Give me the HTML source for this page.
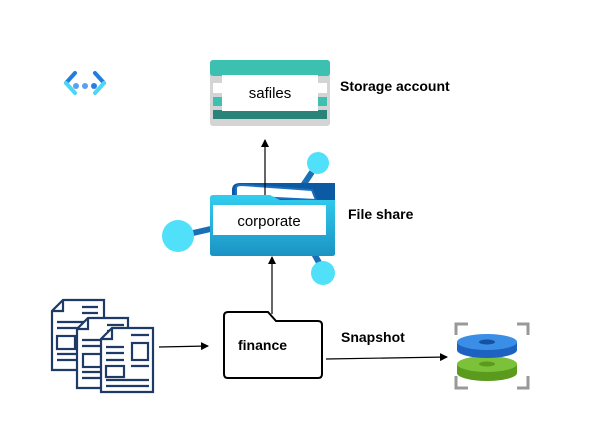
<!DOCTYPE html>
<html><head><meta charset="utf-8"><style>
html,body{margin:0;padding:0;background:#fff}
svg{display:block}
text{font-family:"Liberation Sans",sans-serif;fill:#000}
</style></head><body>
<svg width="589" height="444" viewBox="0 0 589 444" xmlns="http://www.w3.org/2000/svg">
<defs>
<marker id="ah" markerWidth="8" markerHeight="8" refX="7" refY="4" orient="auto" markerUnits="userSpaceOnUse">
<path d="M0,0 L8,4 L0,8 Z" fill="#000"/></marker>
<linearGradient id="fg" x1="0" y1="0" x2="0" y2="1"><stop offset="0" stop-color="#32cdef"/><stop offset="1" stop-color="#1b93c4"/></linearGradient>
</defs>
<!-- network icon -->
<g stroke-linecap="round" fill="none" stroke-width="4">
<path d="M75,73 L66,83" stroke="#1f7fe0"/><path d="M66,83 L75,93" stroke="#4ed6f5"/>
<path d="M95,73 L104,83" stroke="#1f7fe0"/><path d="M104,83 L95,93" stroke="#4ed6f5"/>
</g>
<circle cx="76" cy="86" r="3" fill="#5aa0f0"/><circle cx="85" cy="86" r="3" fill="#5aa0f0"/><circle cx="94" cy="86" r="3" fill="#2a7de0"/>
<!-- storage account -->
<rect x="210" y="60" width="120" height="66" rx="3" fill="#d4d4d4"/>
<rect x="210" y="60" width="120" height="16" rx="3" fill="#3cc1b0"/>
<rect x="213" y="83" width="114" height="10" fill="#fff"/>
<rect x="213" y="97" width="114" height="9" fill="#3cc1b0"/>
<rect x="213" y="110" width="114" height="9" fill="#2a8378"/>
<rect x="222" y="75" width="96" height="36" fill="#fff"/>
<text x="270" y="98" font-size="15" text-anchor="middle">safiles</text>
<text x="340" y="91" font-size="14" font-weight="bold">Storage account</text>
<!-- file share -->
<path d="M180,236 L215,228 M312,172 L300,190 M312,250 L322,268" stroke="#1a6fb5" stroke-width="6"/>
<circle cx="178" cy="236" r="16" fill="#50e0fa"/>
<circle cx="318" cy="163" r="11" fill="#50e0fa"/>
<circle cx="323" cy="273" r="12" fill="#50e0fa"/>
<path d="M232,190 Q232,183 240,183 L320,183 L335,183 L335,250 L232,250 Z" fill="#0b5aa3"/>
<path d="M236,196 L236,188 Q236,185 242,185 L312,190 L316,200 Z" fill="#fff" stroke="#1b6fc0" stroke-width="2"/>
<path d="M210,198 Q210,195 213,195 L270,195 L280,200 L335,200 L335,254 Q335,256 332,256 L213,256 Q210,256 210,253 Z" fill="url(#fg)"/>
<rect x="213" y="205" width="113" height="30" fill="#fff"/>
<text x="269" y="226" font-size="15" text-anchor="middle">corporate</text>
<text x="348" y="219" font-size="14" font-weight="bold">File share</text>
<!-- arrows -->
<line x1="265" y1="195" x2="265" y2="140" stroke="#000" stroke-width="1.2" marker-end="url(#ah)"/>
<line x1="272" y1="314" x2="272" y2="257" stroke="#000" stroke-width="1.2" marker-end="url(#ah)"/>
<line x1="159" y1="347" x2="208" y2="346" stroke="#000" stroke-width="1.2" marker-end="url(#ah)"/>
<line x1="326" y1="359" x2="447" y2="357" stroke="#000" stroke-width="1.2" marker-end="url(#ah)"/>
<!-- finance folder -->
<path d="M228,312 L268,312 L276,321 L318,321 Q322,321 322,325 L322,374 Q322,378 318,378 L228,378 Q224,378 224,374 L224,316 Q224,312 228,312 Z" fill="#fff" stroke="#000" stroke-width="2"/>
<text x="238" y="350" font-size="14" font-weight="bold">finance</text>
<text x="341" y="342" font-size="14" font-weight="bold">Snapshot</text>
<!-- docs -->
<g stroke="#1e3a66" stroke-width="2.2" fill="#fff">
<path d="M63,300 L104,300 L104,370 L52,370 L52,311 Z"/>
<path d="M52,311 L63,311 L63,300" fill="none"/>
<path d="M82,307H98M82,313H98M57,322H98M57,328H98M57,354H98M57,360H98" fill="none"/>
<rect x="57" y="336" width="18" height="13" fill="none"/>
<path d="M88,318 L128,318 L128,388 L77,388 L77,329 Z"/>
<path d="M77,329 L88,329 L88,318" fill="none"/>
<path d="M107,325H124M107,331H124M82,340H124M82,346H124M82,372H124M82,378H124" fill="none"/>
<rect x="83" y="354" width="18" height="13" fill="none"/>
<path d="M112,328 L153,328 L153,392 L101,392 L101,339 Z"/>
<path d="M101,339 L112,339 L112,328" fill="none"/>
<path d="M131,335H149M106,347H124M106,353H124M106,360H124M131,366H149M106,380H149M106,386H149" fill="none"/>
<rect x="132" y="343" width="16" height="17" fill="none"/>
<rect x="106" y="366" width="18" height="11" fill="none"/>
</g>
<!-- snapshot icon -->
<g stroke="#999" stroke-width="3" fill="none">
<path d="M456,335 V324 H468 M517,324 H528 V335 M456,376 V388 H468 M517,388 H528 V376"/>
</g>
<ellipse cx="487" cy="373" rx="30" ry="8" fill="#5a9a1c"/>
<rect x="457" y="364" width="60" height="9" fill="#5a9a1c"/>
<ellipse cx="487" cy="364" rx="30" ry="8" fill="#7cc13a"/>
<ellipse cx="487" cy="364" rx="8" ry="2.5" fill="#5a9a1c"/>
<ellipse cx="487" cy="350" rx="30" ry="8" fill="#1d62c0"/>
<rect x="457" y="342" width="60" height="8" fill="#1d62c0"/>
<ellipse cx="487" cy="342" rx="30" ry="8" fill="#3a8ee6"/>
<ellipse cx="487" cy="342" rx="8" ry="2.5" fill="#1750a0"/>
</svg>
</body></html>
